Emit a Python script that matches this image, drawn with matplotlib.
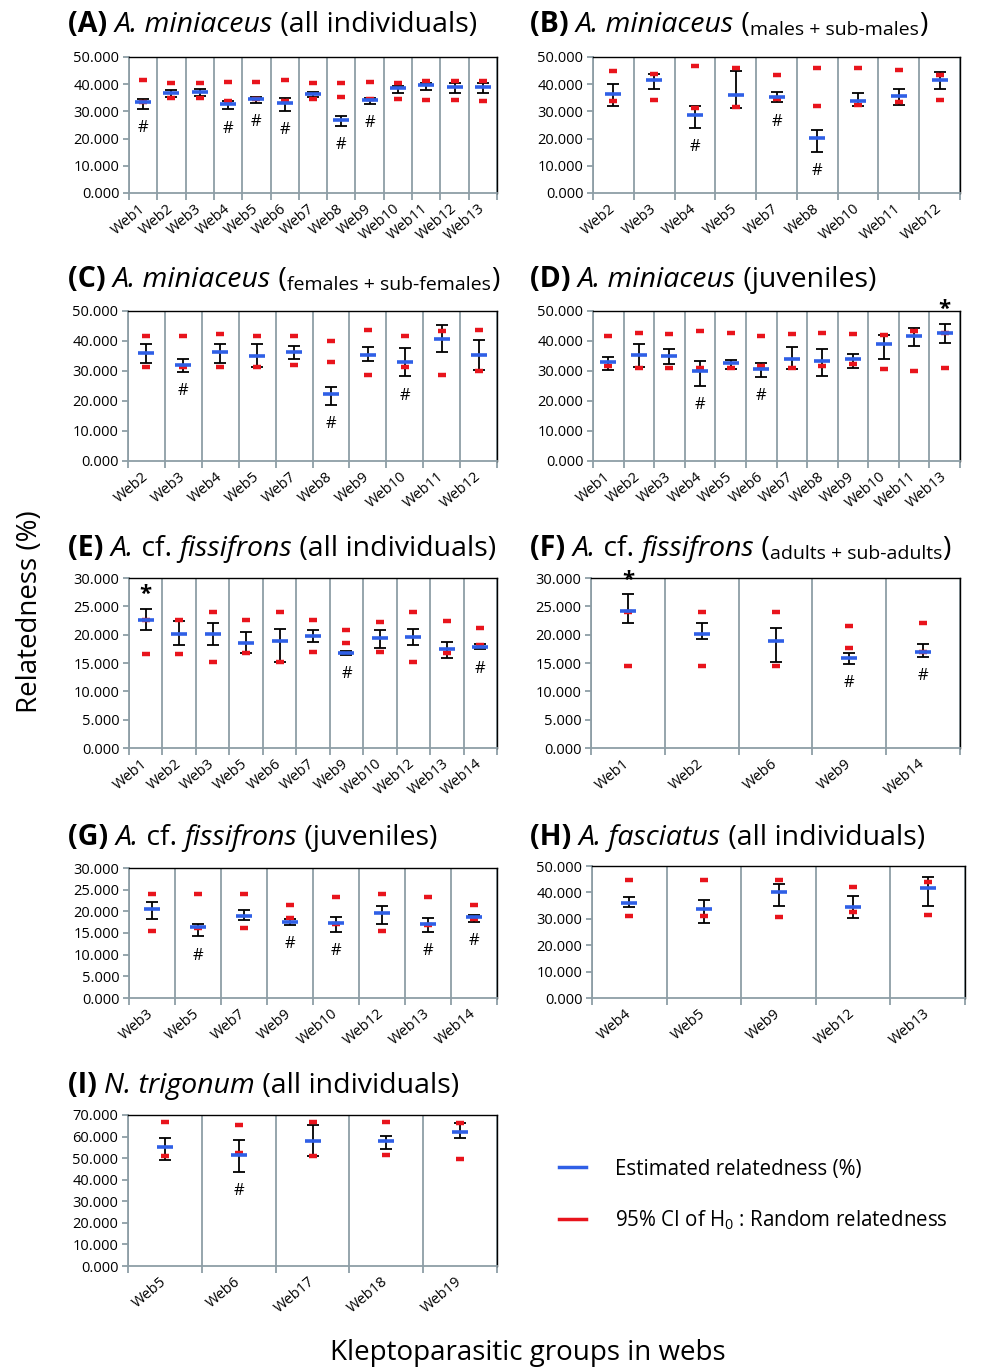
import numpy as np
import matplotlib.pyplot as plt
from matplotlib.lines import Line2D
from matplotlib.ticker import FormatStrFormatter

plt.rcParams['font.family'] = ['Open Sans', 'DejaVu Sans']
plt.rcParams['mathtext.fontset'] = 'custom'
plt.rcParams['mathtext.rm'] = 'Open Sans'
plt.rcParams['mathtext.it'] = 'Open Sans:italic'
plt.rcParams['mathtext.bf'] = 'Open Sans:bold'

# ---- data ----
# (A) A. miniaceus, all individuals
webs_a = ['Web1', 'Web2', 'Web3', 'Web4', 'Web5', 'Web6', 'Web7', 'Web8', 'Web9', 'Web10', 'Web11', 'Web12', 'Web13']
est_a = [33.4, 36.8, 37.3, 32.8, 34.7, 33.0, 36.4, 26.7, 34.2, 38.6, 39.6, 39.1, 39.1]
ehi_a = [34.5, 37.9, 38.1, 33.7, 35.4, 34.8, 37.0, 28.2, 35.0, 39.3, 40.3, 40.5, 40.5]
elo_a = [31.0, 35.4, 35.7, 30.7, 33.1, 30.1, 35.4, 24.8, 32.8, 36.8, 37.9, 36.8, 36.8]
chi_a = [41.7, 40.4, 40.4, 40.8, 40.8, 41.7, 40.4, 40.4, 40.8, 40.4, 41.3, 41.0, 41.3]
clo_a = [33.4, 35.0, 35.0, 34.0, 34.7, 33.7, 34.7, 35.2, 34.5, 34.5, 34.2, 34.2, 33.7]
flag_a = ['#', '', '', '#', '#', '#', '', '#', '#', '', '', '', '']

# (B) A. miniaceus, males + sub-males
webs_b = ['Web2', 'Web3', 'Web4', 'Web5', 'Web7', 'Web8', 'Web10', 'Web11', 'Web12']
est_b = [36.4, 41.4, 28.6, 36.2, 35.2, 20.3, 33.7, 35.7, 41.6]
ehi_b = [39.9, 43.7, 32.0, 44.7, 37.0, 23.1, 36.7, 38.1, 44.4]
elo_b = [32.0, 38.1, 24.0, 31.1, 33.3, 15.2, 32.0, 32.5, 38.1]
chi_b = [44.7, 43.7, 46.6, 46.0, 43.2, 46.0, 46.0, 45.1, 43.2]
clo_b = [33.9, 34.2, 31.1, 31.8, 34.5, 31.9, 32.5, 33.5, 34.2]
flag_b = ['', '', '#', '', '#', '#', '', '', '']

# (C) A. miniaceus, females + sub-females
webs_c = ['Web2', 'Web3', 'Web4', 'Web5', 'Web7', 'Web8', 'Web9', 'Web10', 'Web11', 'Web12']
est_c = [35.9, 32.0, 36.2, 35.0, 36.2, 22.2, 35.2, 33.1, 40.6, 35.2]
ehi_c = [38.9, 33.9, 39.1, 38.9, 38.5, 24.7, 38.1, 37.6, 45.4, 40.2]
elo_c = [32.7, 29.8, 32.7, 31.4, 34.1, 18.8, 33.3, 28.2, 36.4, 30.3]
chi_c = [41.6, 41.6, 42.5, 41.6, 41.6, 40.1, 43.7, 41.6, 43.2, 43.7]
clo_c = [31.4, 31.5, 31.4, 31.4, 31.9, 33.1, 28.6, 31.4, 28.6, 29.9]
flag_c = ['', '#', '', '', '', '#', '', '#', '', '']

# (D) A. miniaceus, juveniles
webs_d = ['Web1', 'Web2', 'Web3', 'Web4', 'Web5', 'Web6', 'Web7', 'Web8', 'Web9', 'Web10', 'Web11', 'Web13']
est_d = [32.9, 35.5, 35.0, 29.9, 32.7, 30.8, 34.1, 33.4, 33.9, 39.0, 41.6, 42.7]
ehi_d = [34.8, 39.1, 37.4, 33.2, 33.7, 32.7, 37.9, 37.4, 35.8, 42.1, 44.3, 45.8]
elo_d = [30.2, 31.4, 32.5, 24.9, 30.6, 28.1, 30.6, 28.5, 31.0, 33.9, 38.5, 39.5]
chi_d = [41.6, 42.7, 42.3, 43.2, 42.7, 41.8, 42.3, 42.7, 42.3, 42.1, 43.2, 42.7]
clo_d = [31.6, 31.1, 31.1, 31.1, 31.1, 31.6, 31.0, 31.6, 32.2, 30.6, 29.9, 31.1]
flag_d = ['', '', '', '#', '', '#', '', '', '', '', '', '*']

# (E) A. cf. fissifrons, all individuals
webs_e = ['Web1', 'Web2', 'Web3', 'Web5', 'Web6', 'Web7', 'Web9', 'Web10', 'Web12', 'Web13', 'Web14']
est_e = [22.6, 20.1, 20.1, 18.6, 18.8, 19.7, 16.8, 19.4, 19.6, 17.5, 17.9]
ehi_e = [24.6, 22.5, 22.1, 20.4, 21.0, 20.8, 17.2, 20.8, 21.0, 18.7, 18.4]
elo_e = [20.8, 18.1, 18.1, 16.8, 15.1, 18.7, 16.4, 17.6, 18.1, 15.8, 17.4]
chi_e = [22.6, 22.6, 24.0, 22.6, 24.0, 22.6, 20.8, 22.2, 24.0, 22.4, 21.1]
clo_e = [16.6, 16.6, 15.1, 16.8, 15.1, 16.9, 18.6, 16.9, 15.1, 16.8, 18.2]
flag_e = ['*', '', '', '', '', '', '#', '', '', '', '#']

# (F) A. cf. fissifrons, adults + sub-adults
webs_f = ['Web1', 'Web2', 'Web6', 'Web9', 'Web14']
est_f = [24.2, 20.1, 18.8, 15.8, 17.0]
ehi_f = [27.1, 22.1, 21.1, 16.7, 18.4]
elo_f = [22.1, 19.2, 15.1, 14.9, 16.0]
chi_f = [24.0, 24.0, 24.0, 21.5, 22.0]
clo_f = [14.5, 14.5, 14.5, 17.6, 17.0]
flag_f = ['*', '', '', '#', '#']

# (G) A. cf. fissifrons, juveniles
webs_g = ['Web3', 'Web5', 'Web7', 'Web9', 'Web10', 'Web12', 'Web13', 'Web14']
est_g = [20.5, 16.5, 19.0, 17.6, 17.3, 19.6, 17.0, 18.8]
ehi_g = [22.2, 17.0, 20.3, 18.2, 18.8, 21.2, 18.5, 19.2]
elo_g = [18.2, 14.2, 17.9, 16.8, 15.2, 17.0, 15.2, 17.6]
chi_g = [24.1, 24.1, 24.1, 21.5, 23.2, 24.1, 23.2, 21.5]
clo_g = [15.5, 16.2, 16.2, 18.5, 17.0, 15.5, 16.8, 18.2]
flag_g = ['', '#', '', '#', '#', '', '#', '#']

# (H) A. fasciatus, all individuals
webs_h = ['Web4', 'Web5', 'Web9', 'Web12', 'Web13']
est_h = [35.8, 33.9, 40.2, 34.4, 41.7]
ehi_h = [38.2, 37.2, 43.3, 38.5, 45.8]
elo_h = [34.4, 28.3, 35.0, 30.2, 35.0]
chi_h = [44.6, 44.6, 44.6, 42.1, 44.1]
clo_h = [31.0, 31.0, 30.5, 32.5, 31.5]
flag_h = ['', '', '', '', '']

# (I) N. trigonum, all individuals
webs_i = ['Web5', 'Web6', 'Web17', 'Web18', 'Web19']
est_i = [55.0, 51.5, 57.8, 57.8, 62.1]
ehi_i = [59.3, 58.3, 65.5, 60.1, 66.4]
elo_i = [49.3, 43.6, 51.1, 54.2, 59.3]
chi_i = [66.8, 65.2, 66.8, 66.8, 66.1]
clo_i = [51.1, 52.4, 51.1, 51.4, 49.6]
flag_i = ['', '#', '', '', '']

BLUE = '#2f5fe6'
RED = '#e8141c'
GRID = '#8d9ea6'
W, H = 985, 1369

fig = plt.figure(figsize=(W / 100, H / 100), dpi=100)


def px_axes(l, t, r, b):
    return fig.add_axes([l / W, 1 - b / H, (r - l) / W, (b - t) / H])


def draw_panel(ax, webs, est, ehi, elo, chi, clo, flags, ymax, ystep):
    n = len(webs)
    x = np.arange(n)
    est = np.array(est)
    yerr = [est - np.array(elo), np.array(ehi) - est]
    ax.errorbar(x, est, yerr=yerr, fmt='none', ecolor='black', elinewidth=1.3,
                capsize=4.5, capthick=1.3, zorder=3)
    ax.plot(x, chi, ls='none', marker='_', ms=6, mew=3.2, color=RED, zorder=4)
    ax.plot(x, clo, ls='none', marker='_', ms=6, mew=3.2, color=RED, zorder=4)
    ax.plot(x, est, ls='none', marker='_', ms=12, mew=2.6, color=BLUE, zorder=5)
    for xi, f, lo, hi in zip(x, flags, elo, ehi):
        if f == '#':
            ax.annotate('#', (xi, lo), xytext=(0, -8), textcoords='offset points',
                        ha='center', va='top', fontsize=12)
        elif f == '*':
            ax.annotate('*', (xi, hi), xytext=(0, 6), textcoords='offset points',
                        ha='center', va='baseline', fontsize=16, fontweight='bold',
                        annotation_clip=False)
    ax.set_xlim(-0.5, n - 0.5)
    ax.set_ylim(0, ymax)
    ax.set_yticks(np.arange(0, ymax + 0.01, ystep))
    ax.yaxis.set_major_formatter(FormatStrFormatter('%.3f'))
    ax.set_xticks(x)
    ax.set_xticklabels(webs, rotation=40, ha='right', va='center', rotation_mode='anchor')
    ax.set_xticks(np.arange(n + 1) - 0.5, minor=True)
    ax.grid(which='minor', axis='x', color=GRID, lw=1.3)
    ax.tick_params(axis='x', which='major', length=0, pad=10, labelsize=10.5)
    ax.tick_params(axis='x', which='minor', length=5, color=GRID, width=1.3)
    ax.tick_params(axis='y', length=4, color=GRID, width=1.3, labelsize=10.5, pad=3)
    for s in ['left', 'bottom']:
        ax.spines[s].set_color(GRID)
        ax.spines[s].set_linewidth(1.3)
    for s in ['top', 'right']:
        ax.spines[s].set_color('black')
        ax.spines[s].set_linewidth(1.0)


def title(x, y, pieces):
    prev = None
    for s, style, size in pieces:
        kw = dict(fontsize=size, fontweight='bold' if style == 'b' else 'normal',
                  fontstyle='italic' if style == 'i' else 'normal')
        if prev is None:
            prev = fig.text(x / W, 1 - y / H, s, ha='left', va='baseline', **kw)
        else:
            prev = ax0.annotate(s, xy=(1, 0), xycoords=prev, ha='left', va='bottom',
                                annotation_clip=False, **kw)


BIG, SMALL = 20.5, 14

ax0 = px_axes(129, 57, 497, 193)
draw_panel(ax0, webs_a, est_a, ehi_a, elo_a, chi_a, clo_a, flag_a, 50, 10)
axb = px_axes(593, 57, 960, 193)
draw_panel(axb, webs_b, est_b, ehi_b, elo_b, chi_b, clo_b, flag_b, 50, 10)
axc = px_axes(128, 311, 497, 461)
draw_panel(axc, webs_c, est_c, ehi_c, elo_c, chi_c, clo_c, flag_c, 50, 10)
axd = px_axes(593, 311, 960, 461)
draw_panel(axd, webs_d, est_d, ehi_d, elo_d, chi_d, clo_d, flag_d, 50, 10)
axe = px_axes(129, 578, 497, 748)
draw_panel(axe, webs_e, est_e, ehi_e, elo_e, chi_e, clo_e, flag_e, 30, 5)
axf = px_axes(591, 578, 960, 748)
draw_panel(axf, webs_f, est_f, ehi_f, elo_f, chi_f, clo_f, flag_f, 30, 5)
axg = px_axes(129, 868, 497, 998)
draw_panel(axg, webs_g, est_g, ehi_g, elo_g, chi_g, clo_g, flag_g, 30, 5)
axh = px_axes(592, 866, 965, 998)
draw_panel(axh, webs_h, est_h, ehi_h, elo_h, chi_h, clo_h, flag_h, 50, 10)
axi = px_axes(128, 1115, 497, 1266)
draw_panel(axi, webs_i, est_i, ehi_i, elo_i, chi_i, clo_i, flag_i, 70, 10)

title(68, 32, [('(A) ', 'b', BIG), ('A. miniaceus', 'i', BIG), (' (all individuals)', 'n', BIG)])
title(530, 32, [('(B) ', 'b', BIG), ('A. miniaceus', 'i', BIG), (' (', 'n', BIG),
                ('males + sub-males', 'n', SMALL), (')', 'n', BIG)])
title(68, 287, [('(C) ', 'b', BIG), ('A. miniaceus', 'i', BIG), (' (', 'n', BIG),
                ('females + sub-females', 'n', SMALL), (')', 'n', BIG)])
title(530, 287, [('(D) ', 'b', BIG), ('A. miniaceus', 'i', BIG), (' (juveniles)', 'n', BIG)])
title(68, 556, [('(E) ', 'b', BIG), ('A.', 'i', BIG), (' cf. ', 'n', BIG), ('fissifrons', 'i', BIG),
                (' (all individuals)', 'n', BIG)])
title(530, 556, [('(F) ', 'b', BIG), ('A.', 'i', BIG), (' cf. ', 'n', BIG), ('fissifrons', 'i', BIG),
                 (' (', 'n', BIG), ('adults + sub-adults', 'n', SMALL), (')', 'n', BIG)])
title(68, 845, [('(G) ', 'b', BIG), ('A.', 'i', BIG), (' cf. ', 'n', BIG), ('fissifrons', 'i', BIG),
                (' (juveniles)', 'n', BIG)])
title(530, 845, [('(H) ', 'b', BIG), ('A. fasciatus', 'i', BIG), (' (all individuals)', 'n', BIG)])
title(68, 1093, [('(I) ', 'b', BIG), ('N. trigonum', 'i', BIG), (' (all individuals)', 'n', BIG)])

fig.text(30 / W, 1 - 612 / H, 'Relatedness (%)', rotation=90, ha='center', va='center', fontsize=20)
fig.text(528 / W, 1 - 1353 / H, 'Kleptoparasitic groups in webs', ha='center', va='center', fontsize=20)

handles = [Line2D([], [], color=BLUE, lw=2.5), Line2D([], [], color=RED, lw=2.5)]
fig.legend(handles, ['Estimated relatedness (%)', '95% CI of H$_0$ : Random relatedness'],
           loc='upper left', bbox_to_anchor=(540 / W, 1 - 1140 / H), frameon=False,
           fontsize=14.8, handlelength=1.35, handletextpad=1.4, labelspacing=1.4)

fig.savefig('out.png', dpi=100)
